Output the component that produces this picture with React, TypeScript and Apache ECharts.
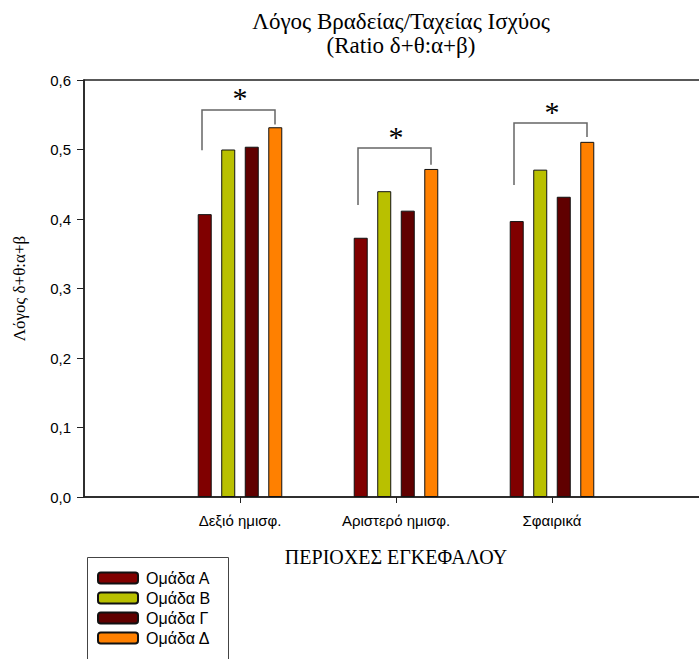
import React, { useEffect, useRef } from "react";
import * as echarts from "echarts";

const categories = ["Δεξιό ημισφ.", "Αριστερό ημισφ.", "Σφαιρικά"];
const groupNames = ["Ομάδα Α", "Ομάδα Β", "Ομάδα Γ", "Ομάδα Δ"];
const groupA = [0.407, 0.373, 0.397];
const groupB = [0.5, 0.44, 0.471];
const groupC = [0.504, 0.412, 0.432];
const groupD = [0.532, 0.472, 0.511];
const bracketTop = [0.557, 0.502, 0.538];
const bracketLeft = [0.499, 0.42, 0.449];
const bracketRight = [0.536, 0.478, 0.518];
const colors = ["#800000", "#b9c000", "#600000", "#ff8000"];

const SERIF = "'Liberation Serif', 'Times New Roman', serif";
const SANS = "'Liberation Sans', Arial, sans-serif";

export default function App() {
  const ref = useRef<HTMLDivElement>(null);
  useEffect(() => {
    if (!ref.current) return;
    const chart = echarts.init(ref.current, null, { renderer: "svg" });
    const axisCats = ["", ...categories, ""];
    const pad = (arr: number[]) => [null, ...arr, null];
    const groups = [groupA, groupB, groupC, groupD];
    const barSeries = groups.map((g, i) => ({
      type: "bar",
      name: groupNames[i],
      data: pad(g),
      barWidth: 14,
      barGap: "68%",
      itemStyle: { color: colors[i], borderColor: "#111", borderWidth: 1 },
    }));
    const bracketData = categories.map((_, i) => [
      i + 1,
      bracketTop[i],
      bracketLeft[i],
      bracketRight[i],
    ]);
    chart.setOption({
      animation: false,
      title: {
        text: "Λόγος Βραδείας/Ταχείας Ισχύος\n(Ratio δ+θ:α+β)",
        left: 396,
        textAlign: "center",
        top: 4,
        textStyle: {
          fontFamily: SERIF,
          fontSize: 23,
          fontWeight: "normal",
          color: "#000",
          lineHeight: 24,
        },
      },
      legend: {
        data: groupNames,
        orient: "vertical",
        left: 97,
        top: 570,
        itemWidth: 40,
        itemHeight: 11,
        itemGap: 4,
        padding: 0,
        textStyle: { fontFamily: SANS, fontSize: 16, color: "#000", padding: [0, 0, 0, 3] },
      },
      graphic: [
        {
          type: "rect",
          shape: { x: 87.5, y: 557.5, width: 141, height: 130 },
          style: { fill: "none", stroke: "#444", lineWidth: 1 },
          silent: true,
        },
      ],
      grid: {
        left: 84,
        top: 80,
        width: 624,
        height: 417,
        outerBoundsMode: "none",
        containLabel: false,
        show: true,
        borderColor: "#222",
        borderWidth: 1.5,
        backgroundColor: "transparent",
      },
      xAxis: {
        type: "category",
        data: axisCats,
        boundaryGap: false,
        name: "ΠΕΡΙΟΧΕΣ ΕΓΚΕΦΑΛΟΥ",
        nameLocation: "middle",
        nameGap: 50,
        nameTextStyle: { fontFamily: SERIF, fontSize: 20, color: "#000" },
        axisLine: { lineStyle: { color: "#222", width: 1.5 } },
        axisTick: {
          length: 6,
          interval: (idx: number) => idx > 0 && idx < axisCats.length - 1,
          lineStyle: { color: "#222" },
        },
        axisLabel: {
          interval: 0,
          margin: 16,
          fontFamily: SANS,
          fontSize: 15,
          color: "#000",
        },
        splitLine: { show: false },
      },
      yAxis: {
        type: "value",
        min: 0,
        max: 0.6,
        interval: 0.1,
        name: "Λόγος δ+θ:α+β",
        nameLocation: "middle",
        nameGap: 56,
        nameTextStyle: { fontFamily: SERIF, fontSize: 17, color: "#000" },
        axisLine: { show: true, lineStyle: { color: "#222", width: 1.5 } },
        axisTick: { show: true, length: 7, lineStyle: { color: "#222" } },
        axisLabel: {
          margin: 13,
          fontFamily: SANS,
          fontSize: 15,
          color: "#000",
          formatter: (v: number) => v.toFixed(1).replace(".", ","),
        },
        splitLine: { show: false },
      },
      series: [
        ...barSeries,
        {
          type: "custom",
          name: "brackets",
          data: bracketData,
          encode: { x: 0, y: 1 },
          clip: false,
          z: 5,
          renderItem: (params: any, api: any) => {
            const c = api.value(0);
            const pTop = api.coord([c, api.value(1)]);
            const pL = api.coord([c, api.value(2)]);
            const pR = api.coord([c, api.value(3)]);
            const xl = pTop[0] - 38;
            const xr = pTop[0] + 35;
            return {
              type: "group",
              children: [
                {
                  type: "polyline",
                  shape: {
                    points: [
                      [xl, pL[1]],
                      [xl, pTop[1]],
                      [xr, pTop[1]],
                      [xr, pR[1]],
                    ],
                  },
                  style: { stroke: "#666", lineWidth: 1.5, fill: null },
                },
                {
                  type: "text",
                  x: pTop[0],
                  y: pTop[1] - 12,
                  style: {
                    text: "*",
                    font: `30px ${SERIF}`,
                    fill: "#000",
                    textAlign: "center",
                    textVerticalAlign: "middle",
                  },
                },
              ],
            };
          },
        },
      ],
    });
    return () => chart.dispose();
  }, []);
  return (
    <div
      ref={ref}
      style={{ position: "absolute", left: 0, top: 0, width: 699, height: 659 }}
    />
  );
}
